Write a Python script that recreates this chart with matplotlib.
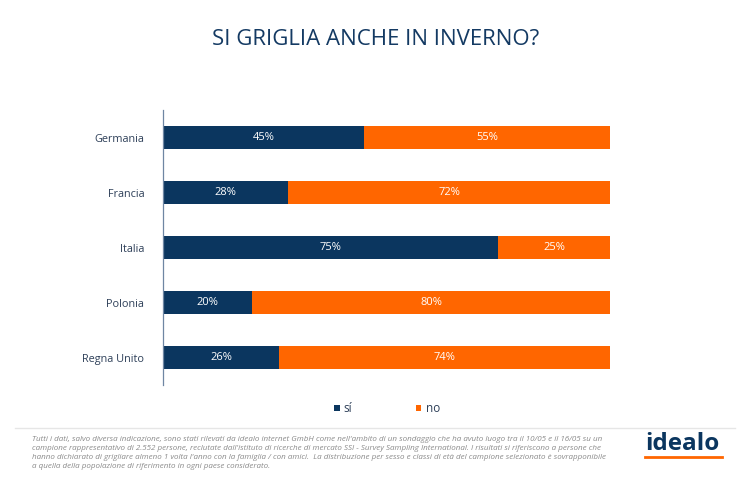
import matplotlib.pyplot as plt
import numpy as np

plt.rcParams["font.family"] = ["Open Sans", "DejaVu Sans"]

countries = ["Germania", "Francia", "Italia", "Polonia", "Regna Unito"]
si_values = [45, 28, 75, 20, 26]
no_values = [55, 72, 25, 80, 74]

NAVY = "#0b365f"
ORANGE = "#ff6600"

footnote = (
    "Tutti i dati, salvo diversa indicazione, sono stati rilevati da idealo internet GmbH come nell'ambito di un sondaggio che ha avuto luogo tra il 10/05 e il 16/05 su un\n"
    "campione rappresentativo di 2.552 persone, reclutate dall'istituto di ricerche di mercato SSI - Survey Sampling International. I risultati si riferiscono a persone che\n"
    "hanno dichiarato di grigliare almeno 1 volta l'anno con la famiglia / con amici.  La distribuzione per sesso e classi di età del campione selezionato è sovrapponibile\n"
    "a quella della popolazione di riferimento in ogni paese considerato."
)

fig = plt.figure(figsize=(7.5, 4.88), dpi=100)
ax = fig.add_axes([0.2173, 0.211, 0.596, 0.5635])

y = np.arange(len(countries))
ax.barh(y, si_values, height=0.42, color=NAVY, label="sí")
ax.barh(y, no_values, left=si_values, height=0.42, color=ORANGE, label="no")

for i, (s, n) in enumerate(zip(si_values, no_values)):
    ax.text(s / 2, i, f"{s}%", ha="center", va="center", color="white", fontsize=8)
    ax.text(s + n / 2, i, f"{n}%", ha="center", va="center", color="white", fontsize=8)

ax.set_xlim(0, 100)
ax.set_ylim(4.5, -0.5)
ax.set_yticks(y)
ax.set_yticklabels(countries, fontsize=7.8, color="#2d3f58")
ax.set_xticks([])
ax.tick_params(axis="y", length=0, pad=13.5)
for side in ["top", "right", "bottom"]:
    ax.spines[side].set_visible(False)
ax.spines["left"].set_color("#6f86a3")
ax.spines["left"].set_linewidth(0.9)

fig.text(0.501, 1 - 39.5 / 488, "SI GRIGLIA ANCHE IN INVERNO?", ha="center", va="center",
         fontsize=16, color="#143a63")

leg = fig.legend(loc="center", bbox_to_anchor=(0.516, 1 - 409 / 488), ncol=2, frameon=False,
                 fontsize=8.5, handlelength=0.45, handleheight=0.45, handletextpad=0.35,
                 columnspacing=5.4)
for t in leg.get_texts():
    t.set_color("#2d3f58")

fig.add_artist(plt.Line2D([0.02, 0.98], [1 - 428 / 488, 1 - 428 / 488],
                          transform=fig.transFigure, color="#e6e6e6", linewidth=1))

fig.text(0.042, 1 - 436 / 488, footnote, ha="left", va="top", fontsize=5.8,
         style="italic", color="#8a8a8a", linespacing=1.42)

fig.text(0.91, 1 - 450 / 488, "idealo", ha="center", va="baseline", fontsize=17.5,
         fontweight="bold", color=NAVY)
fig.add_artist(plt.Line2D([645 / 750, 722 / 750], [1 - 457 / 488, 1 - 457 / 488],
                          transform=fig.transFigure, color=ORANGE, linewidth=2))

fig.savefig("out.png", dpi=100)
